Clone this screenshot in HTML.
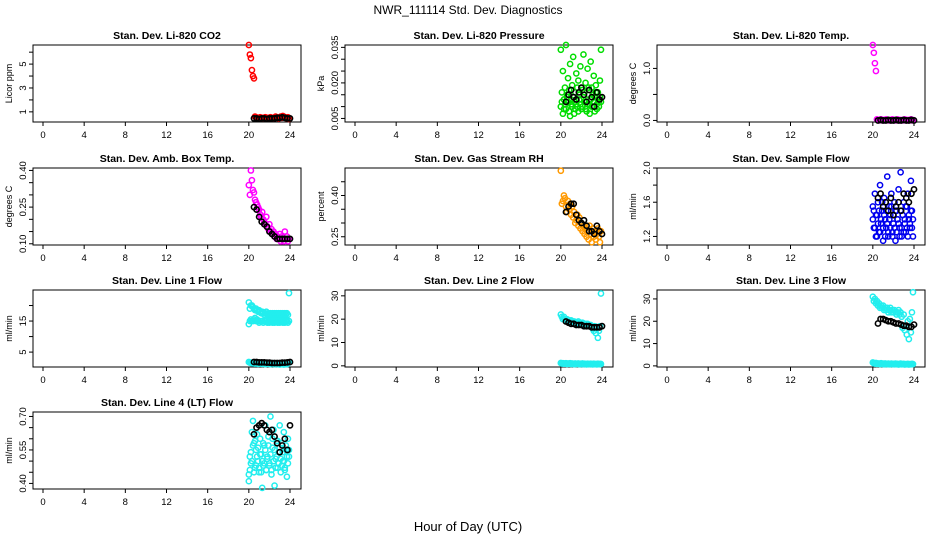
<!DOCTYPE html>
<html><head><meta charset="utf-8">
<style>
body{margin:0;background:#fff;}
svg{display:block;font-family:"Liberation Sans",sans-serif;}
</style></head>
<body>
<svg id="c" width="936" height="540" viewBox="0 0 936 540">
<text x="468" y="14" font-size="12" text-anchor="middle">NWR_111114 Std. Dev. Diagnostics</text>
<text x="468" y="531" font-size="13" text-anchor="middle">Hour of Day (UTC)</text>
</svg>
<script>
const T=[20.0,20.1,20.2,20.3,20.4,20.5,20.6,20.7,20.8,20.9,21.0,21.1,21.2,21.3,21.4,21.5,21.6,21.7,21.8,21.9,22.0,22.1,22.2,22.3,22.4,22.5,22.6,22.7,22.8,22.9,23.0,23.1,23.2,23.3,23.4,23.5,23.6,23.7,23.8,23.9];
const TB=[20.5,20.75,21.0,21.25,21.5,21.75,22.0,22.25,22.5,22.75,23.0,23.25,23.5,23.75,24.0];
const xTicks=[0,4,8,12,16,20,24];

const co2=[6.6,5.8,5.5,4.5,4.0,3.8,0.6,0.55,0.5,0.45,0.5,0.55,0.5,0.5,0.45,0.5,0.55,0.5,0.5,0.45,0.5,0.55,0.5,0.5,0.45,0.5,0.6,0.5,0.5,0.45,0.55,0.6,0.5,0.65,0.6,0.55,0.5,0.45,0.55,0.4];
const co2B=[0.45,0.45,0.4,0.45,0.45,0.4,0.45,0.45,0.45,0.5,0.5,0.55,0.5,0.45,0.45];
const pres1=[0.034,0.012,0.025,0.009,0.018,0.036,0.014,0.022,0.008,0.028,0.011,0.019,0.031,0.007,0.016,0.024,0.010,0.021,0.013,0.027,0.009,0.017,0.032,0.012,0.020,0.008,0.026,0.015,0.011,0.029,0.018,0.010,0.023,0.014,0.019,0.009,0.016,0.012,0.021,0.034];
const pres2=[0.010,0.016,0.007,0.013,0.011,0.009,0.015,0.012,0.017,0.006,0.013,0.010,0.014,0.012,0.009,0.011,0.018,0.008,0.015,0.011,0.013,0.010,0.014,0.016,0.009,0.012,0.011,0.018,0.007,0.013,0.010,0.015,0.012,0.008,0.016,0.011,0.013,0.010,0.014,0.012];
const presB=[0.012,0.015,0.017,0.014,0.013,0.016,0.018,0.015,0.012,0.017,0.014,0.010,0.016,0.013,0.014];
const ltemp=[1.45,1.3,1.1,0.95,0.02,0.01,0.0,0.01,0.02,0.0,0.01,0.0,0.01,0.02,0.0,0.01,0.0,0.01,0.0,0.02,0.01,0.0,0.01,0.0,0.02,0.01,0.0,0.01,0.0,0.01,0.0,0.02,0.01,0.0,0.01,0.0,0.01,0.02,0.0,0.01];
const ltempB=[0.0,0.01,0.0,0.0,0.01,0.0,0.0,0.01,0.0,0.0,0.01,0.0,0.0,0.01,0.0];
const amb=[0.34,0.30,0.40,0.36,0.32,0.31,0.28,0.27,0.26,0.25,0.24,0.22,0.21,0.23,0.20,0.19,0.18,0.21,0.17,0.16,0.18,0.15,0.16,0.14,0.15,0.13,0.14,0.12,0.13,0.12,0.14,0.11,0.13,0.12,0.11,0.15,0.12,0.13,0.11,0.12];
const ambB=[0.25,0.24,0.21,0.19,0.18,0.17,0.15,0.14,0.13,0.12,0.12,0.12,0.12,0.12,0.12];
const rh=[0.49,0.37,0.38,0.40,0.39,0.36,0.34,0.38,0.35,0.37,0.33,0.36,0.32,0.34,0.30,0.31,0.33,0.29,0.32,0.28,0.30,0.27,0.29,0.26,0.28,0.25,0.27,0.24,0.29,0.26,0.23,0.28,0.25,0.27,0.24,0.26,0.28,0.25,0.23,0.27];
const rhB=[0.34,0.36,0.37,0.37,0.33,0.31,0.30,0.31,0.29,0.27,0.27,0.26,0.29,0.27,0.26];
const flow1=[1.55,1.3,1.7,1.2,1.45,1.6,1.25,1.8,1.35,1.5,1.15,1.65,1.4,1.3,1.9,1.2,1.55,1.45,1.7,1.25,1.35,1.6,1.15,1.5,1.4,1.75,1.3,1.95,1.2,1.45,1.6,1.35,1.25,1.55,1.7,1.4,1.3,1.85,1.5,1.2];
const flow2=[1.4,1.5,1.3,1.45,1.2,1.35,1.5,1.25,1.4,1.6,1.3,1.45,1.2,1.5,1.35,1.25,1.4,1.3,1.55,1.2,1.45,1.3,1.5,1.25,1.4,1.35,1.2,1.5,1.3,1.45,1.25,1.4,1.55,1.3,1.2,1.45,1.35,1.5,1.3,1.4];
const flowB=[1.65,1.7,1.55,1.6,1.5,1.65,1.45,1.55,1.6,1.5,1.7,1.65,1.6,1.7,1.75];
const l1a=[21,19,20,20,19.5,19,18.5,19,18.5,18,18.5,18,17.5,18,17.5,17,17.5,18,17,17.5,17,17.5,17,17.5,17,17.5,17,17.5,17,17.5,17,17.5,17,17.5,17,17.5,17,17.5,17,24];
const l1b=[14,15,15.5,15,15,15.5,16,15,15.5,15,14.5,15,15,15,14.5,15,15,15,14.5,15,14.5,15,15,14.5,15,14.5,15,15,14.5,15,14.5,15,15,14.5,15,14.5,15,15,14.5,15];
const l1c=[1.8,1.6,1.5,1.6,1.4,1.5,1.3,1.5,1.4,1.2,1.4,1.3,1.5,1.2,1.4,1.3,1.1,1.4,1.3,1.2,1.4,1.1,1.3,1.2,1.4,1.1,1.2,1.3,1.1,1.2,1.0,1.3,1.1,1.2,1.0,1.3,1.2,1.1,1.5,1.6];
const l1B=[1.8,1.8,1.7,1.7,1.7,1.6,1.6,1.5,1.5,1.5,1.5,1.6,1.6,1.7,1.8];
const l2a=[22,21,20,21,20,19.5,20,19,19.5,19,19.5,19,18.5,19,18.5,18,18.5,19,18,18.5,18,18.5,18,17.5,18,17.5,18,17.5,17,17.5,17,16,15,17,14,16,12,15,17,31];
const l2b=[1.2,1.0,1.1,0.9,1.0,1.1,0.8,1.0,0.9,1.1,0.8,1.0,0.9,0.7,1.0,0.8,0.9,1.0,0.7,0.9,0.8,1.0,0.7,0.9,0.8,0.6,0.9,0.8,0.7,0.9,0.8,0.6,0.9,0.7,0.8,0.6,0.9,0.7,0.8,0.8];
const l2B=[19,18.5,18,18,17.5,17.5,17.5,17,17,17,16.5,16.5,16.5,16.5,17];
const l3a=[31,29,30,28,29,27,28,26,27,26,27,25,26,25,26,24,25,26,24,25,24,25,24,23,24,25,23,24,22,17,23,16,18,14,20,12,21,15,24,33];
const l3b=[1.5,1.2,1.0,1.3,0.9,1.1,1.0,0.8,1.2,0.9,1.0,0.7,1.1,0.9,0.8,1.0,0.7,0.9,1.0,0.8,0.9,0.7,1.0,0.8,0.9,0.6,0.8,1.0,0.7,0.8,0.9,0.6,0.8,0.7,0.9,0.6,0.8,0.7,0.9,0.8];
const l3B=[19,21,21,20.5,20,20,19.5,19,19,18.5,18,18,17.5,17.5,18.5];
const l4a=[0.44,0.52,0.49,0.63,0.68,0.58,0.47,0.55,0.62,0.50,0.45,0.60,0.53,0.38,0.48,0.57,0.66,0.46,0.52,0.61,0.49,0.70,0.44,0.56,0.64,0.39,0.51,0.59,0.47,0.54,0.66,0.45,0.58,0.50,0.63,0.47,0.55,0.43,0.60,0.52];
const l4b=[0.41,0.46,0.54,0.50,0.57,0.45,0.59,0.48,0.52,0.56,0.47,0.53,0.45,0.50,0.58,0.49,0.55,0.46,0.51,0.57,0.48,0.53,0.46,0.60,0.50,0.55,0.47,0.52,0.59,0.49,0.56,0.51,0.48,0.54,0.50,0.46,0.57,0.52,0.49,0.55];
const l4B=[0.62,0.65,0.66,0.67,0.66,0.64,0.63,0.64,0.61,0.58,0.54,0.57,0.60,0.55,0.66];

const panels=[
 {n:"co2",title:"Stan. Dev. Li-820 CO2",yl:"Licor ppm",col:0,row:0,d:[0.15,6.6],ticks:[1,2,3,4,5,6],labs:[1,3,5],s:[[T,co2,"#ff0000"]],b:co2B},
 {n:"pressure",title:"Stan. Dev. Li-820 Pressure",yl:"kPa",col:1,row:0,d:[0.0035,0.036],ticks:[0.005,0.010,0.015,0.020,0.025,0.030,0.035],labs:[0.005,0.020,0.035],s:[[T,pres1,"#00dd00"],[T,pres2,"#00dd00"]],b:presB,dec:3},
 {n:"temp",title:"Stan. Dev. Li-820 Temp.",yl:"degrees C",col:2,row:0,d:[-0.03,1.45],ticks:[0,0.5,1.0],labs:[0,1.0],s:[[T,ltemp,"#ff00ff"]],b:ltempB,dec:1},
 {n:"amb-box-temp",title:"Stan. Dev. Amb. Box Temp.",yl:"degrees C",col:0,row:1,d:[0.095,0.41],ticks:[0.10,0.15,0.20,0.25,0.30,0.35,0.40],labs:[0.10,0.25,0.40],s:[[T,amb,"#ff00ff"]],b:ambB,dec:2},
 {n:"gas-rh",title:"Stan. Dev. Gas Stream RH",yl:"percent",col:1,row:1,d:[0.22,0.50],ticks:[0.25,0.30,0.35,0.40,0.45],labs:[0.25,0.40],s:[[T,rh,"#ff9900"]],b:rhB,dec:2},
 {n:"sample-flow",title:"Stan. Dev. Sample Flow",yl:"ml/min",col:2,row:1,d:[1.1,2.0],ticks:[1.2,1.4,1.6,1.8,2.0],labs:[1.2,1.6,2.0],s:[[T,flow1,"#0000ee"],[T,flow2,"#0000ee"]],b:flowB,dec:1},
 {n:"line1-flow",title:"Stan. Dev. Line 1 Flow",yl:"ml/min",col:0,row:2,d:[0.2,25],ticks:[5,10,15,20],labs:[5,15],s:[[T,l1a,"#22eeee"],[T,l1b,"#22eeee"],[T,l1c,"#22eeee"]],b:l1B},
 {n:"line2-flow",title:"Stan. Dev. Line 2 Flow",yl:"ml/min",col:1,row:2,d:[-0.5,32.5],ticks:[0,10,20,30],labs:[0,10,20,30],s:[[T,l2a,"#22eeee"],[T,l2b,"#22eeee"]],b:l2B},
 {n:"line3-flow",title:"Stan. Dev. Line 3 Flow",yl:"ml/min",col:2,row:2,d:[-0.5,34],ticks:[0,10,20,30],labs:[0,10,20,30],s:[[T,l3a,"#22eeee"],[T,l3b,"#22eeee"]],b:l3B},
 {n:"line4-flow",title:"Stan. Dev. Line 4 (LT) Flow",yl:"ml/min",col:0,row:3,d:[0.375,0.72],ticks:[0.40,0.45,0.50,0.55,0.60,0.65,0.70],labs:[0.40,0.55,0.70],s:[[T,l4a,"#22eeee"],[T,l4b,"#22eeee"]],b:l4B,dec:2}
];
const NS="http://www.w3.org/2000/svg";
const svg=document.getElementById('c');
function mk(tag,at,parent){const e=document.createElementNS(NS,tag);for(const k in at)e.setAttribute(k,at[k]);(parent||svg).appendChild(e);return e;}
const BOXW=268,BOXH=77;
const colX=[33,345,657],rowY=[45,168,290,412];
panels.forEach(p=>{
 const g=mk('g',{});
 
 
 const L=colX[p.col],Tp=rowY[p.row],R=L+BOXW,B=Tp+BOXH;
 const xs=v=>L+10+(v/24)*(BOXW-21);
 const ys=v=>B-(v-p.d[0])/(p.d[1]-p.d[0])*BOXH;
 const t=mk('text',{x:L+BOXW/2,y:Tp-6,'font-size':10.5,'font-weight':'bold','text-anchor':'middle'},g);t.textContent=p.title;
 
 
 const box=mk('rect',{x:L,y:Tp,width:BOXW,height:BOXH,fill:'none',stroke:'#000','stroke-width':1},g);
 
 
 xTicks.forEach(v=>{const x=xs(v);mk('line',{x1:x,y1:B,x2:x,y2:B+4,stroke:'#000'},g);
  const tx=mk('text',{x:x,y:B+16,'font-size':9.5,'text-anchor':'middle'},g);tx.textContent=v;
  
  });
 p.ticks.forEach(v=>{const y=ys(v);mk('line',{x1:L,y1:y,x2:L-4,y2:y,stroke:'#000'},g);});
 p.labs.forEach(v=>{const y=ys(v);const tx=mk('text',{x:L-7,y:y,'font-size':9.5,'text-anchor':'middle',transform:`rotate(-90 ${L-7} ${y})`},g);
  tx.textContent=p.dec?v.toFixed(p.dec):v;
  
  });
 const yl=mk('text',{x:L-21,y:Tp+BOXH/2,'font-size':9,'text-anchor':'middle',transform:`rotate(-90 ${L-21} ${Tp+BOXH/2})`},g);yl.textContent=p.yl;
 
 
 p.s.forEach(s=>{s[0].forEach((tv,i)=>{const c=mk('circle',{cx:xs(tv),cy:ys(s[1][i]),r:2.6,fill:'none',stroke:s[2],'stroke-width':1.5},g);
  
  });});
 TB.forEach((tv,i)=>{const c=mk('circle',{cx:xs(tv),cy:ys(p.b[i]),r:2.6,fill:'none',stroke:'#000','stroke-width':1.6},g);
  
  });
});
</script>
</body></html>
